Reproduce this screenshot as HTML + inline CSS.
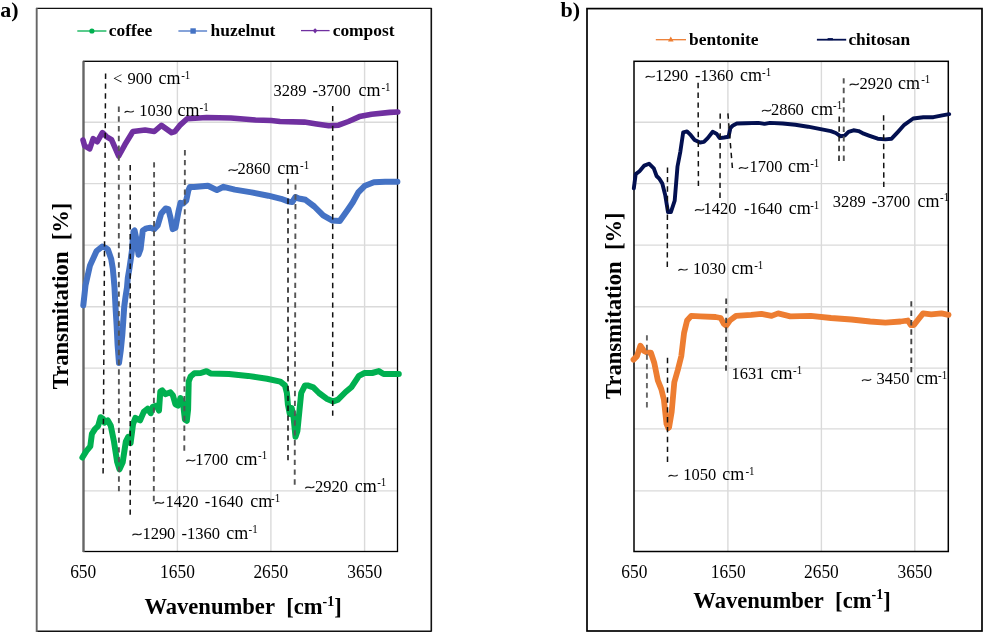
<!DOCTYPE html>
<html><head><meta charset="utf-8"><title>FTIR spectra</title>
<style>html,body{margin:0;padding:0;background:#fff;overflow:hidden}svg{display:block;filter:blur(0.45px)}</style>
</head><body>
<svg width="983" height="632" viewBox="0 0 983 632">
<style>
text{font-family:"Liberation Serif",serif;fill:#000}
.ann{font-size:16.5px}
.sup{font-size:11.0px}
.cm{font-size:18px}
.tilp{fill:none;stroke:#1a1a1a;stroke-width:1.15}
.tick{font-size:17.4px;text-anchor:middle}
.leg{font-size:17.4px;font-weight:bold}
.ttl{font-size:22.6px;font-weight:bold}
.ttls{font-size:14px;font-weight:bold}
.lbl{font-size:22px;font-weight:bold}
.grid line{stroke:#dadada;stroke-width:1.4}
.curve{fill:none;stroke-linejoin:round;stroke-linecap:round}
</style>
<rect width="983" height="632" fill="#fff"/>
<!-- panel labels -->
<text class="lbl" x="0.2" y="16.8">a)</text>
<text class="lbl" x="560.5" y="16.8">b)</text>
<!-- outer frames -->
<line x1="36" y1="8.4" x2="431.6" y2="8.4" stroke="#111" stroke-width="1.4"/>
<line x1="431.3" y1="8" x2="431.3" y2="631.5" stroke="#111" stroke-width="1.6"/>
<line x1="36" y1="631.2" x2="431.6" y2="631.2" stroke="#111" stroke-width="1.6"/>
<line x1="36.7" y1="8" x2="36.7" y2="632" stroke="#666" stroke-width="1.9"/>
<rect x="587" y="8.6" width="395" height="622.4" fill="none" stroke="#000" stroke-width="1.7"/>
<!-- grids -->
<g class="grid">
<line x1="177.4" y1="61.3" x2="177.4" y2="551.5"/>
<line x1="270.9" y1="61.3" x2="270.9" y2="551.5"/>
<line x1="364.6" y1="61.3" x2="364.6" y2="551.5"/>
<line x1="83.5" y1="122.2" x2="397.5" y2="122.2"/>
<line x1="83.5" y1="183.6" x2="397.5" y2="183.6"/>
<line x1="83.5" y1="245.1" x2="397.5" y2="245.1"/>
<line x1="83.5" y1="306.7" x2="397.5" y2="306.7"/>
<line x1="83.5" y1="368.1" x2="397.5" y2="368.1"/>
<line x1="83.5" y1="428.9" x2="397.5" y2="428.9"/>
<line x1="83.5" y1="490.9" x2="397.5" y2="490.9"/>
<line x1="727.9" y1="61.3" x2="727.9" y2="551.5"/>
<line x1="821.4" y1="61.3" x2="821.4" y2="551.5"/>
<line x1="914.8" y1="61.3" x2="914.8" y2="551.5"/>
<line x1="634" y1="122.2" x2="948.3" y2="122.2"/>
<line x1="634" y1="183.6" x2="948.3" y2="183.6"/>
<line x1="634" y1="245.1" x2="948.3" y2="245.1"/>
<line x1="634" y1="306.7" x2="948.3" y2="306.7"/>
<line x1="634" y1="368.1" x2="948.3" y2="368.1"/>
<line x1="634" y1="428.9" x2="948.3" y2="428.9"/>
<line x1="634" y1="490.9" x2="948.3" y2="490.9"/>
</g>
<!-- plot frames -->
<rect x="83.5" y="61.3" width="314.0" height="490.2" fill="none" stroke="#000" stroke-width="1.3"/>
<line x1="83.5" y1="61.3" x2="83.5" y2="552.1" stroke="#666" stroke-width="2.2"/>
<rect x="634.0" y="61.3" width="314.29999999999995" height="490.2" fill="none" stroke="#000" stroke-width="1.5"/>
<!-- curves -->
<path class="curve" stroke="#7030a0" stroke-width="5.6" d="M83 140 L84.6 145.8 L89.7 148.8 L93.2 138.7 L97.3 141.7 L102.4 132.6 L106.4 136.6 L111.5 139.7 L118.7 156 L124.8 144.8 L132.9 131.5 L145.1 130 L154.3 131.5 L161.4 125.4 L171.6 132.6 L174.9 131.5 L179.8 125.4 L187.1 118.7 L206.6 117.5 L231 118 L255.5 120 L271.3 120.5 L280 121.5 L304.4 122.1 L316.6 124 L328.8 125.8 L338.6 125.2 L348.4 121.5 L359.4 116.6 L371.6 114.2 L389.9 112.4 L397.8 112"/>
<path class="curve" stroke="#4472c4" stroke-width="6" d="M83.3 305.3 L85.5 285.4 L90 265.4 L96.6 251 L102.2 246.6 L105 247.5 L107.9 249.5 L111.2 259 L112.8 268.5 L113.7 278 L114.5 287.5 L115 297 L115.7 310 L116.6 325 L117.6 345 L119 363 L120.8 350 L122.3 335 L123.4 319 L124.2 307 L125.5 297 L127 287.5 L127.8 278 L129.4 268.5 L130.8 259 L132.1 249.5 L132.7 240 L133.5 231.5 L134.6 230.5 L136.4 239.1 L138.5 254.7 L140.6 249 L142.8 230.5 L146.3 228.4 L150.6 227.7 L154.2 229.1 L157.7 225.5 L161.3 213.4 L165.6 208.5 L168.4 209.2 L170.5 217.7 L172.7 229.1 L175.5 227.7 L178.4 212 L180.5 202.8 L183.3 203.5 L186.2 200.6 L188.3 190.7 L189.8 187.1 L194 187.1 L207.9 185.7 L216.9 190.1 L223.6 186.8 L234.8 189.6 L251.5 192.4 L268.3 195.7 L281.1 198.8 L288.8 201.6 L292.2 202.1 L295.5 197 L298.8 198.5 L305.5 199.8 L314.3 206.5 L323.2 215.4 L332 220.4 L339.8 220.9 L347.6 209.9 L352.7 202.5 L358.3 192.4 L365 185.7 L373.9 182.3 L385.1 181.8 L397.4 181.8"/>
<path class="curve" stroke="#00b050" stroke-width="6" d="M82.4 457.5 L86.3 451.1 L90.3 446.4 L91.9 433.8 L95 429 L98.2 425.8 L100.6 417.2 L102.9 418.7 L104.5 422.7 L107.7 420.3 L110.8 425.8 L114 441.7 L117.2 462.2 L119.5 469.3 L122.7 462.2 L125.8 441.7 L128.2 436.9 L130.6 443.2 L133 424.3 L135.3 417.9 L140.1 420.3 L143.8 411.9 L147.6 408.7 L150.8 413.2 L152.7 406.8 L156.5 405.6 L159 410.6 L160.3 391.6 L162.2 390.4 L165.3 394.2 L170.4 392.3 L172.9 395.4 L175.4 404.3 L178 405.6 L180.5 398 L183 403 L184.9 419.5 L186.8 420.8 L188.1 409.4 L188.7 381.5 L190.6 376.5 L194.4 373.3 L200.8 373 L206.5 371.2 L210.5 373.4 L229 374 L248 375.9 L267 378.7 L280.3 381.6 L285 385.4 L286.9 393 L287.9 404.4 L289.8 413.9 L291.7 408.2 L293.6 417.7 L295.5 436.7 L297.4 431 L299.3 412 L301.2 393 L305 385.4 L307.6 385.4 L313.3 387.3 L319 393 L326.6 398.7 L333.2 401.5 L338 399.6 L345.6 392 L351.3 387.3 L358.9 375.9 L364.6 373 L372.2 373 L378.8 371.1 L383.6 374 L398.8 374"/>
<path class="curve" stroke="#031050" stroke-width="3.9" d="M633.8 188.4 L635.7 174.1 L639.5 171.3 L644.3 165.6 L649 163.7 L653.8 168.4 L656.6 176 L659.5 178.9 L662.3 183.6 L665.2 195 L668 212.1 L670.9 212.1 L674.7 200.7 L677.5 166.5 L680.4 151.3 L683.2 132.3 L687 131.4 L690.8 135.2 L694.6 139.9 L700.1 142.5 L703.9 141.9 L707.7 138.1 L712.7 131.8 L716.5 133.7 L719.7 138.1 L724.1 137.5 L728.5 136.8 L730.4 128 L733 125.4 L736.8 123.5 L745.6 123.2 L758.3 122.9 L764.6 123.9 L770 122.9 L782.7 123.5 L795.3 124.8 L808 126.7 L820.6 129.2 L830.8 131.1 L835.8 133 L840.3 136.2 L844.7 135.6 L848.5 131.8 L853.5 130.3 L858.6 131.1 L863.7 133.7 L868.9 135.6 L877.7 138.7 L885.3 139.4 L891.6 138.7 L898 131.8 L904.3 124.8 L913.2 118.5 L923.3 117.2 L933.4 117.2 L942.3 115.3 L949.2 114.1"/>
<path class="curve" stroke="#ed7d31" stroke-width="5.8" d="M633.5 359.6 L637 356.1 L640.4 345.7 L643.9 350.9 L647.4 352.6 L650.9 352.6 L654.3 363 L657.8 380.4 L661.3 389.1 L663.9 399.6 L666.5 423.9 L668.3 428 L669.1 427.4 L671.7 411.7 L674.3 382.2 L677.8 370 L681.3 356.1 L684.1 332.7 L687.1 320.5 L691.2 315.9 L700.3 316.4 L715.6 317 L720.7 318 L723.7 323.6 L726.3 325.6 L729.8 320.5 L736 315.9 L751.2 314.9 L761.4 313.9 L771.6 315.9 L778.1 313.4 L790.3 316.4 L810.7 315.9 L831 318 L851.4 319.5 L870.2 321.5 L885.4 322.6 L900.7 321.5 L907.8 320.5 L910.9 325.1 L913.9 325.1 L919 318.5 L923.1 313.4 L931.2 314.4 L941.4 313.4 L948.5 314.9"/>
<!-- dashed lines -->
<g class="dash">
<line x1="105.6" y1="73.6" x2="103.1" y2="473.5" stroke="#111" stroke-width="1.5" stroke-dasharray="5.40 4.46"/>
<line x1="118.8" y1="106.6" x2="118.9" y2="491.3" stroke="#555" stroke-width="1.9" stroke-dasharray="5.40 4.33"/>
<line x1="130.2" y1="165.1" x2="130.2" y2="514.8" stroke="#111" stroke-width="1.5" stroke-dasharray="5.40 4.44"/>
<line x1="154.1" y1="162.2" x2="153.8" y2="501.3" stroke="#555" stroke-width="1.9" stroke-dasharray="5.40 4.41"/>
<line x1="184.9" y1="150.1" x2="184.3" y2="450.7" stroke="#555" stroke-width="1.9" stroke-dasharray="5.40 4.44"/>
<line x1="288" y1="178.8" x2="288" y2="460.4" stroke="#111" stroke-width="1.5" stroke-dasharray="5.40 4.46"/>
<line x1="295.5" y1="184.4" x2="294.7" y2="484.7" stroke="#555" stroke-width="1.9" stroke-dasharray="5.40 4.43"/>
<line x1="332.7" y1="106" x2="332.7" y2="415.8" stroke="#111" stroke-width="1.5" stroke-dasharray="5.40 4.42"/>
<line x1="698.1" y1="82.8" x2="698.4" y2="186.1" stroke="#111" stroke-width="1.5" stroke-dasharray="5.40 4.39"/>
<line x1="720.2" y1="113.4" x2="720" y2="198" stroke="#111" stroke-width="1.5" stroke-dasharray="5.40 4.50"/>
<line x1="727.9" y1="113.4" x2="732.4" y2="168" stroke="#111" stroke-width="1.5" stroke-dasharray="5.40 4.48"/>
<line x1="839.2" y1="116.6" x2="839" y2="160.9" stroke="#111" stroke-width="1.5" stroke-dasharray="5.40 4.33"/>
<line x1="843.7" y1="78.2" x2="843.8" y2="160.9" stroke="#555" stroke-width="1.9" stroke-dasharray="5.40 4.26"/>
<line x1="883.6" y1="115.3" x2="883.8" y2="187.1" stroke="#111" stroke-width="1.5" stroke-dasharray="5.40 4.09"/>
<line x1="667.5" y1="167.5" x2="667.3" y2="267" stroke="#111" stroke-width="1.5" stroke-dasharray="5.40 4.01"/>
<line x1="646.9" y1="335.2" x2="646.9" y2="407.4" stroke="#666" stroke-width="1.9" stroke-dasharray="5.40 4.14"/>
<line x1="667.5" y1="357.8" x2="667.5" y2="462" stroke="#111" stroke-width="1.5" stroke-dasharray="5.40 4.48"/>
<line x1="726.2" y1="298.6" x2="726" y2="370.7" stroke="#444" stroke-width="1.9" stroke-dasharray="5.40 4.13"/>
<line x1="911.3" y1="301.2" x2="911.3" y2="372.3" stroke="#444" stroke-width="1.9" stroke-dasharray="5.40 3.99"/>
</g>
<!-- annotations -->
<text class="ann" transform="translate(113 84) scale(1 1.055)">&lt;</text>
<text class="ann" transform="translate(127.6 84) scale(1 1.055)">900</text>
<text class="ann cm" transform="translate(158.6 84) scale(1 1.055)">cm</text>
<text class="sup" transform="translate(181.2 78.5) scale(1 1.055)">-1</text>
<path class="tilp" d="M124.6 112.6 C127.8 108.9 130.6 114.5 133.8 110.8"/>
<text class="ann" transform="translate(139.2 116) scale(1 1.055)">1030</text>
<text class="ann cm" transform="translate(177.6 116) scale(1 1.055)">cm</text>
<text class="sup" transform="translate(199.6 110.5) scale(1 1.055)">-1</text>
<text class="ann" transform="translate(273.6 96) scale(1 1.055)">3289</text>
<text class="ann" transform="translate(312.4 96) scale(1 1.055)">-3700</text>
<text class="ann cm" transform="translate(358.6 96) scale(1 1.055)">cm</text>
<text class="sup" transform="translate(381.4 90.5) scale(1 1.055)">-1</text>
<path class="tilp" d="M228.6 171 C231.8 167.3 234.6 172.9 237.8 169.2"/>
<text class="ann" transform="translate(237.6 174.4) scale(1 1.055)">2860</text>
<text class="ann cm" transform="translate(277.3 174.4) scale(1 1.055)">cm</text>
<text class="sup" transform="translate(300 168.9) scale(1 1.055)">-1</text>
<path class="tilp" d="M186.2 461.4 C189.4 457.7 192.2 463.3 195.4 459.6"/>
<text class="ann" transform="translate(195.2 464.8) scale(1 1.055)">1700</text>
<text class="ann cm" transform="translate(235.6 464.8) scale(1 1.055)">cm</text>
<text class="sup" transform="translate(258 459.3) scale(1 1.055)">-1</text>
<path class="tilp" d="M305.2 488.3 C308.4 484.6 311.2 490.2 314.4 486.5"/>
<text class="ann" transform="translate(315 491.7) scale(1 1.055)">2920</text>
<text class="ann cm" transform="translate(354.7 491.7) scale(1 1.055)">cm</text>
<text class="sup" transform="translate(377.2 486.2) scale(1 1.055)">-1</text>
<path class="tilp" d="M154.8 503.8 C158 500.1 160.8 505.7 164 502"/>
<text class="ann" transform="translate(165.6 507.2) scale(1 1.055)">1420</text>
<text class="ann" transform="translate(204.8 507.2) scale(1 1.055)">-1640</text>
<text class="ann cm" transform="translate(250.3 507.2) scale(1 1.055)">cm</text>
<text class="sup" transform="translate(271 501.7) scale(1 1.055)">-1</text>
<path class="tilp" d="M132.4 535.3 C135.6 531.6 138.4 537.2 141.6 533.5"/>
<text class="ann" transform="translate(142.4 538.7) scale(1 1.055)">1290</text>
<text class="ann" transform="translate(181.5 538.7) scale(1 1.055)">-1360</text>
<text class="ann cm" transform="translate(226.2 538.7) scale(1 1.055)">cm</text>
<text class="sup" transform="translate(248.5 533.2) scale(1 1.055)">-1</text>
<path class="tilp" d="M645.6 77.6 C648.8 73.9 651.6 79.5 654.8 75.8"/>
<text class="ann" transform="translate(655.3 81) scale(1 1.055)">1290</text>
<text class="ann" transform="translate(695 81) scale(1 1.055)">-1360</text>
<text class="ann cm" transform="translate(740 81) scale(1 1.055)">cm</text>
<text class="sup" transform="translate(762 75.5) scale(1 1.055)">-1</text>
<path class="tilp" d="M849.6 85.3 C852.8 81.6 855.6 87.2 858.8 83.5"/>
<text class="ann" transform="translate(859.5 88.7) scale(1 1.055)">2920</text>
<text class="ann cm" transform="translate(898.1 88.7) scale(1 1.055)">cm</text>
<text class="sup" transform="translate(921.2 83.2) scale(1 1.055)">-1</text>
<path class="tilp" d="M762 111.5 C765.2 107.8 768 113.4 771.2 109.7"/>
<text class="ann" transform="translate(770.9 114.9) scale(1 1.055)">2860</text>
<text class="ann cm" transform="translate(811.1 114.9) scale(1 1.055)">cm</text>
<text class="sup" transform="translate(833 109.4) scale(1 1.055)">-1</text>
<path class="tilp" d="M738.9 168.9 C742.1 165.2 744.9 170.8 748.1 167.1"/>
<text class="ann" transform="translate(749.5 172.3) scale(1 1.055)">1700</text>
<text class="ann cm" transform="translate(787.9 172.3) scale(1 1.055)">cm</text>
<text class="sup" transform="translate(810.2 166.8) scale(1 1.055)">-1</text>
<path class="tilp" d="M695 210.8 C698.2 207.1 701 212.7 704.2 209"/>
<text class="ann" transform="translate(703.6 214.2) scale(1 1.055)">1420</text>
<text class="ann" transform="translate(743.9 214.2) scale(1 1.055)">-1640</text>
<text class="ann cm" transform="translate(788.7 214.2) scale(1 1.055)">cm</text>
<text class="sup" transform="translate(810.2 208.7) scale(1 1.055)">-1</text>
<text class="ann" transform="translate(832.7 206.6) scale(1 1.055)">3289</text>
<text class="ann" transform="translate(871.7 206.6) scale(1 1.055)">-3700</text>
<text class="ann cm" transform="translate(917.6 206.6) scale(1 1.055)">cm</text>
<text class="sup" transform="translate(940 201.1) scale(1 1.055)">-1</text>
<path class="tilp" d="M678.4 270.6 C681.6 266.9 684.4 272.5 687.6 268.8"/>
<text class="ann" transform="translate(693.1 274) scale(1 1.055)">1030</text>
<text class="ann cm" transform="translate(731.5 274) scale(1 1.055)">cm</text>
<text class="sup" transform="translate(754.2 268.5) scale(1 1.055)">-1</text>
<text class="ann" transform="translate(731.4 379.4) scale(1 1.055)">1631</text>
<text class="ann cm" transform="translate(770.6 379.4) scale(1 1.055)">cm</text>
<text class="sup" transform="translate(793 373.9) scale(1 1.055)">-1</text>
<path class="tilp" d="M862 381 C865.2 377.3 868 382.9 871.2 379.2"/>
<text class="ann" transform="translate(876.5 384.4) scale(1 1.055)">3450</text>
<text class="ann cm" transform="translate(916.2 384.4) scale(1 1.055)">cm</text>
<text class="sup" transform="translate(938 378.9) scale(1 1.055)">-1</text>
<path class="tilp" d="M668.5 476.6 C671.7 472.9 674.5 478.5 677.7 474.8"/>
<text class="ann" transform="translate(683.2 480) scale(1 1.055)">1050</text>
<text class="ann cm" transform="translate(722.2 480) scale(1 1.055)">cm</text>
<text class="sup" transform="translate(745.4 474.5) scale(1 1.055)">-1</text>
<!-- ticks -->
<text class="tick" transform="translate(83.2 578.3) scale(1 1.055)">650</text>
<text class="tick" transform="translate(177.5 578.3) scale(1 1.055)">1650</text>
<text class="tick" transform="translate(270.8 578.3) scale(1 1.055)">2650</text>
<text class="tick" transform="translate(364.7 578.3) scale(1 1.055)">3650</text>
<text class="tick" transform="translate(634.4 578.3) scale(1 1.055)">650</text>
<text class="tick" transform="translate(728.2 578.3) scale(1 1.055)">1650</text>
<text class="tick" transform="translate(821.4 578.3) scale(1 1.055)">2650</text>
<text class="tick" transform="translate(914.9 578.3) scale(1 1.055)">3650</text>
<!-- axis titles -->
<text class="ttl" transform="translate(144.4 614.4) scale(1 1.04)">Wavenumber&#160; [cm<tspan class="ttls" dy="-8.5">-1</tspan><tspan dy="8.5">]</tspan></text>
<text class="ttl" transform="translate(693.3 608.1) scale(1 1.04)">Wavenumber&#160; [cm<tspan class="ttls" dy="-8.5">-1</tspan><tspan dy="8.5">]</tspan></text>
<text class="ttl" transform="translate(67.8 389.2) rotate(-90)" x="0" y="0">Transmitation&#160; [%]</text>
<text class="ttl" transform="translate(621.4 399) rotate(-90)" x="0" y="0">Transmitation&#160; [%]</text>
<!-- legends -->
<g stroke-width="1.3">
<line x1="77.3" y1="31" x2="106.4" y2="31" stroke="#00b050"/>
<circle cx="91.9" cy="31" r="2.6" fill="#00b050"/>
<line x1="178.4" y1="31" x2="207.1" y2="31" stroke="#4472c4"/>
<rect x="190.4" y="28.3" width="5.4" height="5.4" fill="#4472c4"/>
<line x1="301" y1="30.6" x2="329.6" y2="30.6" stroke="#7030a0"/>
<path d="M315.1 28.2 L317.4 30.6 L315.1 33.6 L312.8 30.6 Z" fill="#7030a0"/>
<line x1="655.8" y1="39.7" x2="686" y2="39.7" stroke="#ed7d31"/>
<path d="M670.8 36.4 L673.6 41.6 L668 41.6 Z" fill="#ed7d31"/>
<line x1="816.9" y1="39.7" x2="846.2" y2="39.7" stroke="#031050" stroke-width="1.8"/>
<rect x="827.6" y="38.1" width="5.3" height="2" fill="#031050"/>
</g>
<text class="leg" x="108.8" y="36.2">coffee</text>
<text class="leg" x="210.6" y="36.2">huzelnut</text>
<text class="leg" x="332.7" y="36.2">compost</text>
<text class="leg" x="689.0" y="44.5">bentonite</text>
<text class="leg" x="848.4" y="44.5">chitosan</text>
</svg>
</body></html>
